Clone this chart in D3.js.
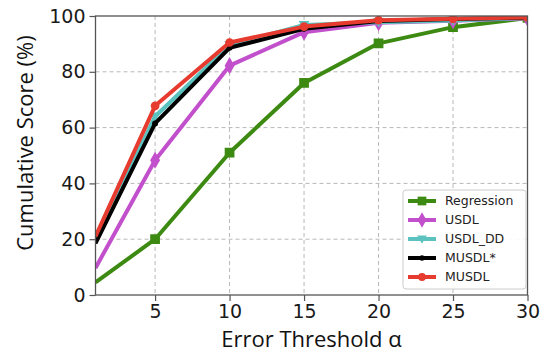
<!DOCTYPE html>
<html>
<head>
<meta charset="utf-8">
<script src="https://cdn.jsdelivr.net/npm/d3@7"></script>
<style>
    body { margin: 0; background: #fff; }
    svg { display: block; }
    .tick text { font-family: 'DejaVu Sans', sans-serif; font-size: 19px; fill: #1a1a1a; }
    .axis-label { font-family: 'Open Sans', sans-serif; font-size: 22px; fill: #111; }
    .legend text { font-family: 'DejaVu Sans', sans-serif; font-size: 12.5px; fill: #222; }
</style>
</head>
<body>
<svg id="chart" width="546" height="354"></svg>
<script>
    // values
    const thresholds = [1, 5, 10, 15, 20, 25, 30];
    const regression = [4.5, 20, 51, 76, 90.2, 96, 99.3];
    const usdl = [9.7, 48.3, 82.2, 94.2, 97.6, 98.3, 99.2];
    const usdlDD = [19.8, 64, 89.5, 96.8, 97.8, 98.4, 99.3];
    const musdlStar = [18.5, 61.5, 88.6, 95.4, 98.2, 98.9, 99.4];
    const musdl = [21, 67.8, 90.5, 96.2, 98.5, 99, 99.5];
    const xTicks = [5, 10, 15, 20, 25, 30];
    const yTicks = [0, 20, 40, 60, 80, 100];
    const firstMarked = 5; // no marker is drawn at the left edge in the original

    const seriesNames = ["Regression", "USDL", "USDL_DD", "MUSDL*", "MUSDL"];
    const seriesValues = [regression, usdl, usdlDD, musdlStar, musdl];
    const seriesColors = ["#3d8a12", "#c24fcb", "#5cc2bf", "#000000", "#e63b2e"];
    const seriesMarkers = [d3.symbolSquare, d3.symbolDiamond, "tri-down", d3.symbolCircle, d3.symbolCircle];
    const markerSizes = [95, 85, 75, 28, 60];

    const svg = d3.select("#chart");
    const margin = { left: 95.5, right: 18.5, top: 16, bottom: 59 };
    const width = 546 - margin.left - margin.right;
    const height = 354 - margin.top - margin.bottom;

    const x = d3.scaleLinear().domain([1, 30]).range([0, width]);
    const y = d3.scaleLinear().domain([0, 100]).range([height, 0]);

    svg.append("defs").append("clipPath").attr("id", "plotClip")
        .append("rect").attr("width", width).attr("height", height);

    const g = svg.append("g").attr("transform", `translate(${margin.left},${margin.top})`);

    // grid
    g.append("g")
        .selectAll("line")
        .data(xTicks.slice(0, -1))
        .join("line")
        .attr("x1", d => x(d)).attr("x2", d => x(d))
        .attr("y1", 0).attr("y2", height)
        .attr("stroke", "#b8b8b8").attr("stroke-dasharray", "4,3").attr("stroke-width", 1);
    g.append("g")
        .selectAll("line")
        .data(yTicks.slice(1, -1))
        .join("line")
        .attr("x1", 0).attr("x2", width)
        .attr("y1", d => y(d)).attr("y2", d => y(d))
        .attr("stroke", "#b8b8b8").attr("stroke-dasharray", "4,3").attr("stroke-width", 1);

    const xAxis = g.append("g")
        .attr("transform", `translate(0,${height})`)
        .call(d3.axisBottom(x).tickValues(xTicks).tickSize(6).tickPadding(4));
    const yAxis = g.append("g")
        .call(d3.axisLeft(y).tickValues(yTicks).tickSize(6).tickPadding(4));
    [xAxis, yAxis].forEach(a => {
        a.select(".domain").remove();
        a.selectAll(".tick line").attr("stroke", "#555").attr("stroke-width", 1.2);
    });

    const line = d3.line().x(d => x(d[0])).y(d => y(d[1]));

    function markerPath(m, size) {
        if (m === "tri-down") {
            const r = Math.sqrt(size) * 0.62;
            return `M${-r},${-r * 0.75}L${r},${-r * 0.75}L0,${r}Z`;
        }
        return d3.symbol().type(m).size(size)();
    }

    const plot = g.append("g").attr("clip-path", "url(#plotClip)");
    seriesValues.forEach((vals, i) => {
        const pts = thresholds.map((t, j) => [t, vals[j]]);
        const sg = plot.append("g");
        sg.append("path")
            .attr("d", line(pts))
            .attr("fill", "none")
            .attr("stroke", seriesColors[i])
            .attr("stroke-width", 4)
            .attr("stroke-linejoin", "round");
        sg.selectAll("path.mk")
            .data(pts.filter(d => d[0] >= firstMarked))
            .join("path")
            .attr("class", "mk")
            .attr("transform", d => `translate(${x(d[0])},${y(d[1])})`)
            .attr("d", markerPath(seriesMarkers[i], markerSizes[i]))
            .attr("fill", seriesColors[i]);
    });

    // frame
    g.append("rect")
        .attr("width", width).attr("height", height)
        .attr("fill", "none").attr("stroke", "#555").attr("stroke-width", 1.3);

    // labels
    svg.append("text")
        .attr("class", "axis-label")
        .attr("x", margin.left + width / 2)
        .attr("y", 347)
        .attr("text-anchor", "middle")
        .text("Error Threshold α");
    svg.append("text")
        .attr("class", "axis-label")
        .attr("transform", "translate(33,143) rotate(-90)")
        .attr("text-anchor", "middle")
        .text("Cumulative Score (%)");

    // legend
    const lg = svg.append("g").attr("class", "legend").attr("transform", "translate(403,190)");
    lg.append("rect")
        .attr("width", 123).attr("height", 99).attr("rx", 3)
        .attr("fill", "#fff").attr("fill-opacity", 0.9)
        .attr("stroke", "#ccc");
    seriesNames.forEach((name, i) => {
        const yy = 11 + i * 19;
        lg.append("line")
            .attr("x1", 5).attr("x2", 33).attr("y1", yy).attr("y2", yy)
            .attr("stroke", seriesColors[i]).attr("stroke-width", 4);
        lg.append("path")
            .attr("transform", `translate(19,${yy})`)
            .attr("d", markerPath(seriesMarkers[i], markerSizes[i] * 0.8))
            .attr("fill", seriesColors[i]);
        lg.append("text")
            .attr("x", 42).attr("y", yy).attr("dy", "0.35em")
            .text(name);
    });
</script>
</body>
</html>
